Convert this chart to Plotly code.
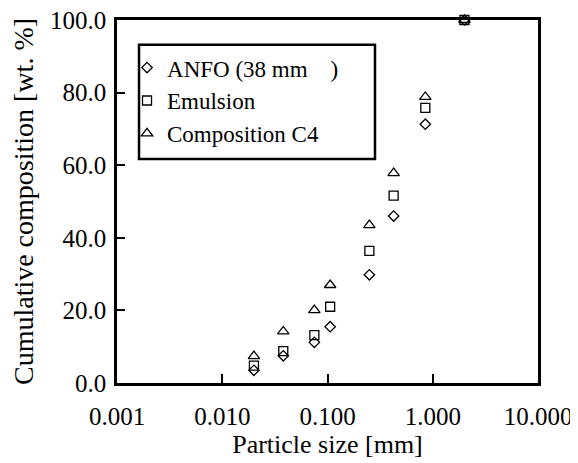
import plotly.graph_objects as go

# Data
sizes = [0.02, 0.038, 0.075, 0.106, 0.25, 0.425, 0.85, 2.0]
anfo = [3.5, 7.5, 11.2, 15.5, 29.8, 46.0, 71.3, 100.0]
emulsion = [4.8, 8.8, 13.2, 21.0, 36.4, 51.6, 75.8, 100.0]
c4 = [7.4, 14.2, 20.1, 27.0, 43.5, 57.8, 78.8, 100.0]

x_tickvals = [0.001, 0.01, 0.1, 1, 10]
x_ticktext = ["0.001", "0.010", "0.100", "1.000", "10.000"]
y_tickvals = [0, 20, 40, 60, 80, 100]

series_names = ["ANFO (38 mm\u00a0\u00a0\u00a0\u00a0)", "Emulsion", "Composition C4"]
FONT = "Liberation Serif"

fig = go.Figure()
for name, vals, sym, size in [
    (series_names[0], anfo, "diamond-open", 8),
    (series_names[1], emulsion, "square-open", 9),
    (series_names[2], c4, "triangle-up-open", 10),
]:
    fig.add_trace(go.Scatter(
        x=sizes, y=vals, mode="markers", name=name, cliponaxis=False,
        marker=dict(symbol=sym, size=size, color="black", line=dict(width=1.3, color="black")),
    ))

# legend frame
fig.add_shape(type="rect", xref="paper", yref="paper",
              x0=0.0523, x1=0.6128, y0=0.617, y1=0.932,
              line=dict(color="black", width=2.5), fillcolor="rgba(0,0,0,0)")

fig.update_layout(
    width=570, height=455,
    margin=dict(l=109, r=40, t=12, b=80),
    paper_bgcolor="white", plot_bgcolor="white",
    font=dict(family=FONT, size=25, color="black"),
    showlegend=True,
    legend=dict(
        x=0.0238, y=0.928, xanchor="left", yanchor="top",
        bgcolor="rgba(0,0,0,0)", borderwidth=0,
        font=dict(family=FONT, size=23, color="black"),
        itemwidth=30, tracegroupgap=0,
    ),
    xaxis=dict(
        type="log", range=[-3, 1], automargin=False,
        tickvals=x_tickvals, ticktext=x_ticktext,
        ticks="inside", ticklen=9, tickwidth=1.5, tickcolor="black",
        ticklabelstandoff=9, ticklabeloverflow="allow",
        showline=True, linecolor="black", linewidth=2.5, mirror=True,
        showgrid=False, zeroline=False,
        title=dict(text="Particle size [mm]", font=dict(family=FONT, size=26), standoff=7),
        tickfont=dict(family=FONT, size=25),
    ),
    yaxis=dict(
        range=[0, 100], automargin=False,
        tickvals=y_tickvals, tickformat=".1f",
        ticks="inside", ticklen=8, tickwidth=1.5, tickcolor="black",
        ticklabeloverflow="allow", ticklabelstandoff=3,
        showline=True, linecolor="black", linewidth=2.5, mirror=True,
        showgrid=False, zeroline=False,
        title=dict(text="Cumulative composition [wt. %]", font=dict(family=FONT, size=28), standoff=24),
        tickfont=dict(family=FONT, size=25),
    ),
)

fig.write_html("out.html")
